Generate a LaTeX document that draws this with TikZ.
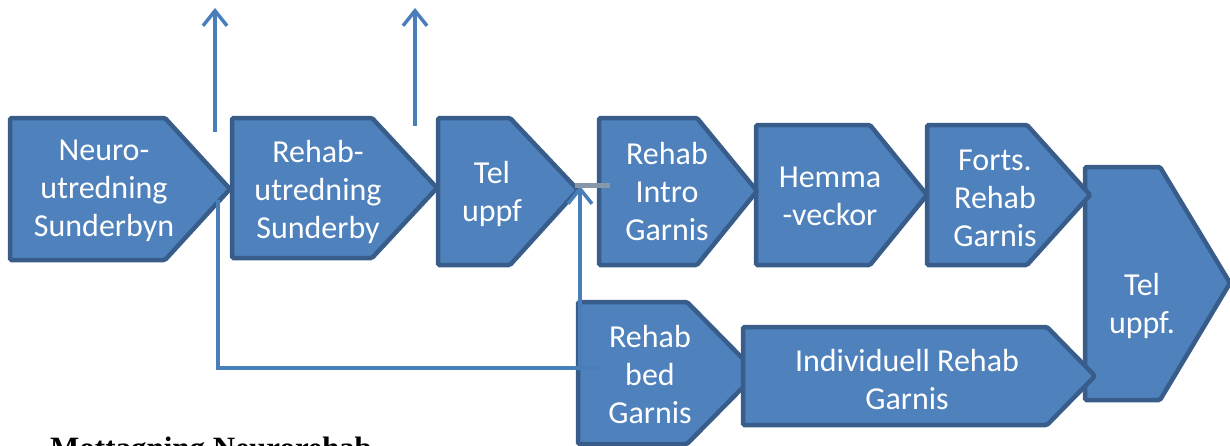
\documentclass[tikz,border=0pt]{standalone}
\usepackage{fontspec}
\setmainfont{Carlito}
\newfontfamily\titlefont{Liberation Serif}
\usetikzlibrary{arrows.meta}
\definecolor{boxfill}{HTML}{4F81BD}
\definecolor{boxedge}{HTML}{385D8A}
\definecolor{linkc}{HTML}{4A7EBB}
\definecolor{grayc}{HTML}{8896AA}
% name, left, top, body right, tip x, tip y, bottom
\newcommand{\homeplate}[7]{%
  \draw[hpbox] (#2,#3) -- (#4,#3) -- (#5,#6) -- (#4,#7) -- (#2,#7) -- cycle;
  \coordinate (#1-tip) at (#5,#6);
  \coordinate (#1-w) at (#2,#6);
}
\begin{document}
\begin{tikzpicture}[x=1pt,y=-1pt,
  hpbox/.style={fill=boxfill, draw=boxedge, line width=4.5pt, rounded corners=1.5pt},
  lbl/.style={text=white, font=\fontsize{32}{38}\selectfont, align=center, inner sep=0pt},
  link/.style={draw=linkc, line width=3.5pt},
  uparrow/.style={link, -{Straight Barb[length=15pt,width=24pt,line width=3.5pt]}}]
\useasboundingbox (0,0) rectangle (1230,445);
\clip (0,0) rectangle (1230,445);
% shapes (back to front)
\homeplate{tel2}{1085}{167}{1160}{1230}{283}{400}
\homeplate{forts}{927}{125}{1027}{1090}{195}{265}
\homeplate{hemma}{756}{125}{870}{927}{195}{265}
\homeplate{intro}{599}{118}{697}{757}{191}{265}
\homeplate{tel1}{438}{118}{510}{578}{190}{265}
\homeplate{rehabu}{232}{118}{372}{437}{188}{258}
\homeplate{neuro}{10}{118}{165}{230}{189}{260}
\homeplate{bed}{578}{302}{687}{757}{373}{444}
\homeplate{indiv}{743}{327}{1047}{1095}{376}{425}
% labels
\node[lbl] (tneuro) at (104,191) {Neuro-\\utredning\\Sunderbyn};
\node[lbl] (trehabu) at (318,192) {Rehab-\\utredning\\Sunderby};
\node[lbl] (ttel1) at (492,194) {Tel\\uppf};
\node[lbl] (tintro) at (667,192) {Rehab\\Intro\\Garnis};
\node[lbl] (themma) at (830,196) {Hemma\\-veckor};
\node[lbl] (tforts) at (995,198) {Forts.\\Rehab\\Garnis};
\node[lbl] (ttel2) at (1142,306) {Tel\\uppf.};
\node[lbl] (tbed) at (650,374) {Rehab\\bed\\Garnis};
\node[lbl] (tindiv) at (907,379) {Individuell Rehab\\Garnis};
% connectors
\coordinate (up1s) at (215,132); \coordinate (up1e) at (215,8);
\coordinate (up2s) at (415,126); \coordinate (up2e) at (415,8);
\draw[uparrow] (up1s) -- (up1e);
\draw[uparrow] (up2s) -- (up2e);
\coordinate (nb) at (218,200);
\coordinate (bedend) at (602,368);
\coordinate (junc) at (580,368);
\coordinate (telin) at (580,186);
\draw[link] (nb) |- (bedend);
\draw[uparrow] (junc) -- (telin);
\coordinate (g1) at (575,185); \coordinate (g2) at (610,185);
\draw[grayc, line width=5pt] (g1) -- (g2);
% title
\node[anchor=base west, inner sep=0pt, font=\titlefont\bfseries\fontsize{31}{31}\selectfont] (title) at (50,458) {Mottagning Neurorehab};
\end{tikzpicture}
\end{document}
